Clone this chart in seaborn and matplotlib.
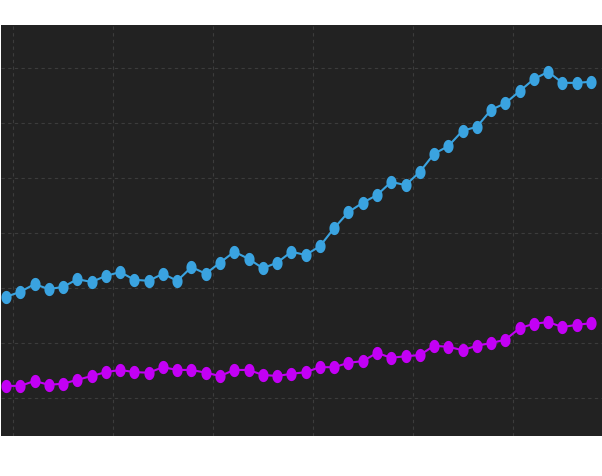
import matplotlib
matplotlib.use("Agg")
import matplotlib.pyplot as plt
import seaborn as sns
import numpy as np
import pandas as pd
from matplotlib.path import Path

# ---- data ----
periods = list(range(42))
series_blue = [28.4, 29.3, 30.7, 29.8, 30.2, 31.6, 31.1, 32.2, 32.9, 31.5,
               31.3, 32.6, 31.3, 33.8, 32.6, 34.6, 36.6, 35.3, 33.6, 34.6,
               36.6, 36.0, 37.6, 40.9, 43.8, 45.5, 46.9, 49.3, 48.7, 51.1,
               54.4, 55.8, 58.6, 59.3, 62.4, 63.6, 65.8, 68.0, 69.3, 67.3,
               67.3, 67.5]
series_magenta = [12.2, 12.2, 13.1, 12.4, 12.6, 13.3, 14.0, 14.7, 15.1, 14.7,
                  14.6, 15.6, 15.1, 15.1, 14.6, 14.0, 15.1, 15.1, 14.2, 14.0,
                  14.4, 14.7, 15.6, 15.6, 16.4, 16.7, 18.2, 17.3, 17.6, 17.8,
                  19.5, 19.3, 18.7, 19.5, 20.0, 20.6, 22.7, 23.5, 23.8, 22.9,
                  23.3, 23.6]
x_grid = [0.5, 7.5, 14.5, 21.5, 28.5, 35.5]
y_grid = [10, 20, 30, 40, 50, 60, 70]

sns.set_style("dark", {
    "axes.facecolor": "#222222",
    "axes.grid": True,
    "grid.color": "#3c3c3c",
    "grid.linestyle": (0, (3, 3)),
})

fig = plt.figure(figsize=(6.02, 4.77), dpi=100)
fig.patch.set_facecolor("white")
ax = fig.add_axes([1 / 602, 40 / 477, 601 / 602, 411 / 477])
ax.set_facecolor("#222222")

# ellipse marker (taller than wide)
t = np.linspace(0, 2 * np.pi, 60)
ell = Path(np.column_stack([0.77 * np.cos(t), np.sin(t)]), closed=True)

df = pd.DataFrame({"x": periods, "blue": series_blue, "magenta": series_magenta})
sns.lineplot(data=df, x="x", y="blue", ax=ax, color="#3aa3e0", linewidth=1.5,
             marker=ell, markersize=9.5, markeredgewidth=0)
sns.lineplot(data=df, x="x", y="magenta", ax=ax, color="#c300f5", linewidth=1.5,
             marker=ell, markersize=9.5, markeredgewidth=0)

ax.set_xlim(-0.35, 41.77)
ax.set_ylim(3.09, 77.82)
ax.set_xticks(x_grid)
ax.set_yticks(y_grid)
ax.grid(True, color="#3c3c3c", linestyle=(0, (3, 3)), linewidth=0.8)
ax.tick_params(left=False, bottom=False, labelleft=False, labelbottom=False)
ax.set_xlabel("")
ax.set_ylabel("")
for s in ax.spines.values():
    s.set_visible(False)

fig.savefig("out.png", dpi=100, facecolor="white")
